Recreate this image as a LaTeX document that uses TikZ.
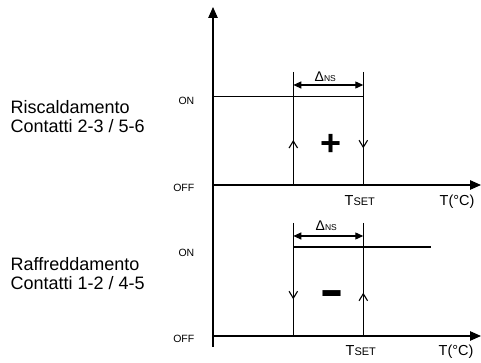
\documentclass[tikz,border=0pt]{standalone}
\usepackage{fontspec}
\usepackage{graphicx}
\setmainfont{Liberation Sans}
\usetikzlibrary{arrows.meta}
\begin{document}
\begin{tikzpicture}[x=1pt,y=1pt,
  ln/.style={line width=1.1pt},
  axis/.style={line width=1.2pt,-{Triangle[length=11pt,width=9.5pt]}},
  dimline/.style={line width=1.1pt,{Triangle[length=8pt,width=7pt]}-{Triangle[length=8pt,width=7pt]}},
  barb/.style={line width=1.1pt,-{Straight Barb[length=7pt,width=8.5pt]}},
  big/.style={inner sep=0pt,anchor=base west,font=\fontsize{18}{19.5}\selectfont,align=left},
  small/.style={inner sep=0pt,anchor=base east,font=\fontsize{10.5}{12}\selectfont},
  tlab/.style={inner sep=0pt,anchor=base west,font=\fontsize{14.5}{16}\selectfont},
  dlab/.style={inner sep=0pt,anchor=base west,font=\fontsize{14}{15}\selectfont},
  sign/.style={inner sep=0pt,anchor=base,font=\fontsize{36}{38}\selectfont\bfseries}]
\useasboundingbox (0,0) rectangle (481,363);
% coordinates
\coordinate (ybot) at (213,16);
\coordinate (ytop) at (213,356);
\coordinate (o1) at (213,178);
\coordinate (x1) at (481,178);
\coordinate (o2) at (213,27);
\coordinate (x2) at (481,27);
% upper diagram
\coordinate (on1a) at (213,266.3);
\coordinate (on1b) at (363.3,266.3);
\coordinate (a1top) at (293.3,291);
\coordinate (a1bot) at (293.3,178);
\coordinate (b1top) at (363.3,291);
\coordinate (b1bot) at (363.3,178);
\coordinate (d1a) at (293.3,278);
\coordinate (d1b) at (363.3,278);
\coordinate (ua1s) at (293.3,210);
\coordinate (ua1e) at (293.3,223);
\coordinate (da1s) at (363.3,228);
\coordinate (da1e) at (363.3,214.7);
% lower diagram
\coordinate (on2a) at (293.3,116);
\coordinate (on2b) at (431,116);
\coordinate (a2top) at (293.3,140);
\coordinate (a2bot) at (293.3,27);
\coordinate (b2top) at (363.3,140);
\coordinate (b2bot) at (363.3,27);
\coordinate (d2a) at (293.3,127);
\coordinate (d2b) at (363.3,127);
\coordinate (da2s) at (293.3,77);
\coordinate (da2e) at (293.3,63.7);
\coordinate (ua2s) at (363.3,57);
\coordinate (ua2e) at (363.3,70.3);

% axes
\draw[axis] (ybot) -- (ytop);
\draw[axis] (o1) -- (x1);
\draw[axis] (o2) -- (x2);
% upper
\draw[ln] (on1a) -- (on1b);
\draw[ln] (a1top) -- (a1bot);
\draw[ln] (b1top) -- (b1bot);
\draw[dimline] (d1a) -- (d1b);
\draw[barb] (ua1s) -- (ua1e);
\draw[barb] (da1s) -- (da1e);
% lower
\draw[ln] (on2a) -- (on2b);
\draw[ln] (a2top) -- (a2bot);
\draw[ln] (b2top) -- (b2bot);
\draw[dimline] (d2a) -- (d2b);
\draw[barb] (da2s) -- (da2e);
\draw[barb] (ua2s) -- (ua2e);

% labels
\node[big] (risc) at (10.5,230) {Riscaldamento\\Contatti 2-3 / 5-6};
\node[big] (raff) at (10.5,73) {Raffreddamento\\Contatti 1-2 / 4-5};
\node[small] (on1) at (194.5,258.3) {ON};
\node[small] (off1) at (194.5,171.5) {OFF};
\node[small] (on2) at (194.5,106.3) {ON};
\node[small] (off2) at (194.5,20) {OFF};
\node[tlab] (ts1) at (344.5,157.7) {T{\fontsize{11}{12}\selectfont SET}};
\node[tlab] (ts2) at (345.5,7) {T{\fontsize{11}{12}\selectfont SET}};
\node[tlab] (tc1) at (439.5,157.7) {T(°C)};
\node[tlab] (tc2) at (438.5,7) {T(°C)};
\node[dlab] (dn1) at (314.5,281.3) {Δ{\fontsize{8.5}{10}\selectfont NS}};
\node[dlab] (dn2) at (315.5,132.3) {Δ{\fontsize{8.5}{10}\selectfont NS}};
\node[sign] (plus) at (331,207.5) {+};
\node[sign] (minus) at (332,51.5) {\scalebox{1}[1.5]{−}};
\end{tikzpicture}
\end{document}
